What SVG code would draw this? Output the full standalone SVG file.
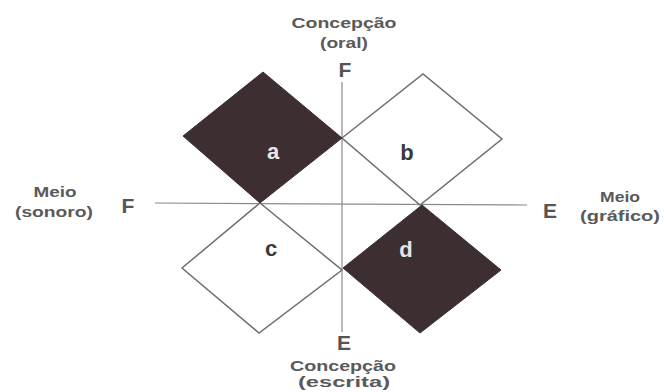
<svg xmlns="http://www.w3.org/2000/svg" width="664" height="392" viewBox="0 0 664 392">
<style>
text{font-family:"Liberation Sans",Arial,sans-serif;font-weight:bold;text-anchor:middle}
.lbl{font-size:15px;fill:#5a5a5a}
.ax{font-size:21px;fill:#555}
.dark{fill:#3d2e32;stroke:#3d2e32;stroke-width:1}
.light{fill:#fff;stroke:#6e6e6e;stroke-width:1.5}
.ln{stroke:#8a8a8a;stroke-width:1.2;fill:none}
.wl{font-size:22px;fill:#e6e6e6}
.bl{font-size:22px;fill:#3a3a3a}
</style>
<rect width="664" height="392" fill="#fff"/>
<g id="connectors">
<line class="ln" x1="155" y1="203" x2="527" y2="205"/>
<line class="ln" x1="342" y1="82" x2="342" y2="332"/>
</g>
<g id="node-b"><polygon class="light" points="342,138 423,74 502,139 420,205"/><text class="bl" x="407" y="160">b</text></g>
<g id="node-c"><polygon class="light" points="260,203 342,270 259,333 182,268"/><text class="bl" x="271" y="256">c</text></g>
<g id="node-a"><polygon class="dark" points="263,72 342,138 260,203 183,136"/><text class="wl" x="273" y="159">a</text></g>
<g id="node-d"><polygon class="dark" points="422,205 501,270 420,333 343,268"/><text class="wl" x="406" y="257">d</text></g>
<g id="label-top">
<text class="lbl" x="344" y="28" textLength="105" lengthAdjust="spacingAndGlyphs">Concepção</text>
<text class="lbl" x="344" y="48" textLength="48" lengthAdjust="spacingAndGlyphs">(oral)</text>
<text class="ax" x="345" y="77">F</text>
</g>
<g id="label-bottom">
<text class="ax" x="344" y="350">E</text>
<text class="lbl" x="343" y="371" textLength="106" lengthAdjust="spacingAndGlyphs">Concepção</text>
<text class="lbl" x="344" y="387" textLength="92" lengthAdjust="spacingAndGlyphs">(escrita)</text>
</g>
<g id="label-left">
<text class="lbl" x="55" y="197" textLength="43" lengthAdjust="spacingAndGlyphs">Meio</text>
<text class="lbl" x="54" y="217" textLength="78" lengthAdjust="spacingAndGlyphs">(sonoro)</text>
<text class="ax" x="128" y="213">F</text>
</g>
<g id="label-right">
<text class="ax" x="550" y="218">E</text>
<text class="lbl" x="620" y="202" textLength="40" lengthAdjust="spacingAndGlyphs">Meio</text>
<text class="lbl" x="620" y="221" textLength="80" lengthAdjust="spacingAndGlyphs">(gráfico)</text>
</g>
</svg>
